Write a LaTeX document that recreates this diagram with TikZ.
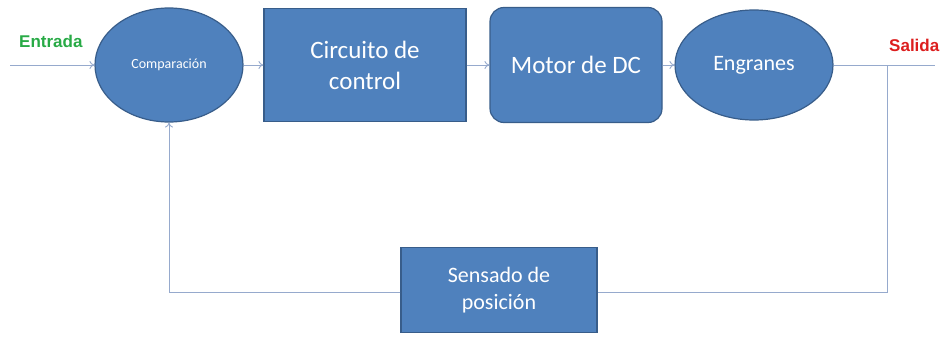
\documentclass[tikz,border=0pt]{standalone}
\usepackage{fontspec}
\setmainfont{Carlito}
\newfontfamily\labfont{Liberation Sans}
\usetikzlibrary{shapes.geometric,arrows.meta}
\definecolor{boxfill}{RGB}{79,129,189}
\definecolor{boxline}{RGB}{56,93,138}
\definecolor{wire}{RGB}{150,170,205}
\definecolor{ingreen}{RGB}{40,170,70}
\definecolor{outred}{RGB}{220,30,30}
\tikzset{
  blk/.style={draw=boxline, line width=1.2pt, fill=boxfill, text=white, inner sep=0pt, align=center},
  ell/.style={blk, ellipse},
  wirel/.style={draw=wire, line width=0.9pt},
  arr/.style={wirel, -{To[length=5pt,width=8pt]}},
}
\begin{document}
\begin{tikzpicture}[x=1pt,y=-1pt]
\useasboundingbox (0,0) rectangle (949,337);
\node[ell, minimum width=148pt, minimum height=114pt, font=\fontsize{14}{16}\selectfont] (comp) at (169,65) {Comparación};
\node[blk, rectangle, minimum width=202pt, minimum height=113pt, font=\fontsize{25}{31}\selectfont] (circ) at (365,65) {Circuito de\\control};
\node[blk, rectangle, rounded corners=14pt, minimum width=172pt, minimum height=115pt, font=\fontsize{25}{30}\selectfont] (motor) at (576,65) {Motor de DC};
\node[ell, minimum width=158pt, minimum height=110pt, font=\fontsize{22}{26}\selectfont] (eng) at (754,65) {Engranes};
\node[blk, rectangle, minimum width=196pt, minimum height=85pt, font=\fontsize{22}{27}\selectfont] (sens) at (499,290) {Sensado de\\posición};
\coordinate (in) at (10,65);
\coordinate (out) at (935,65);
\coordinate (tap) at (887,65);
\coordinate (br) at (887,292);
\coordinate (bl) at (169,292);
\node[font=\labfont\bfseries\fontsize{17}{19}\selectfont, text=ingreen, anchor=west, inner sep=0pt] (lin) at (19,41) {Entrada};
\node[font=\labfont\bfseries\fontsize{17}{19}\selectfont, text=outred, anchor=west, inner sep=0pt] (lout) at (889,45) {Salida};
\draw[arr] (in) -- (comp.west);
\draw[arr] (comp.east) -- (circ.west);
\draw[arr] (circ.east) -- (motor.west);
\draw[arr] (motor.east) -- (eng.west);
\draw[wirel] (eng.east) -- (out);
\draw[wirel] (tap) -- (br) -- (sens.east |- br);
\draw[arr] (sens.west |- bl) -- (bl) -- (comp.south);
\end{tikzpicture}
\end{document}
